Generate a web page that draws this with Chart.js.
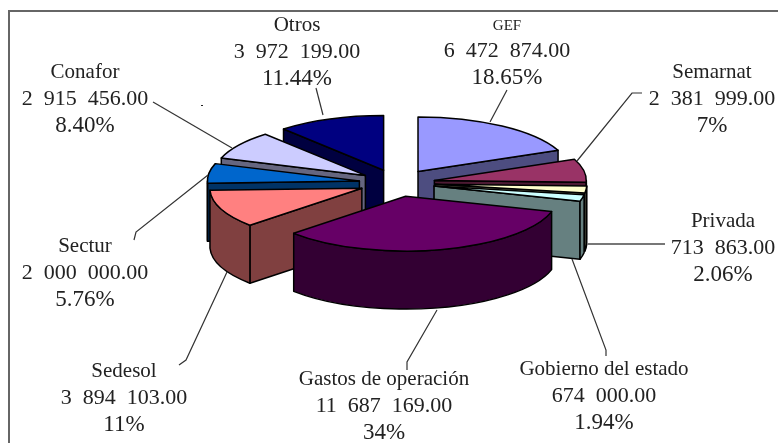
<!DOCTYPE html>
<html>
<head>
<meta charset="utf-8">
<style>
  html, body { margin: 0; background: #fff; }
  #box { position: relative; width: 778px; height: 443px; }
</style>
<script src="https://cdn.jsdelivr.net/npm/chart.js@4"></script>
</head>
<body>
<div id="box"><canvas id="pieChart" width="778" height="443"></canvas></div>
<script>
const categories = ['GEF', 'Semarnat', 'Privada', 'Gobierno del estado', 'Gastos de operación', 'Sedesol', 'Sectur', 'Conafor', 'Otros'];
const amounts = [6472874, 2381999, 713863, 674000, 11687169, 3894103, 2000000, 2915456, 3972199];
const shares = ['18.65%', '7%', '2.06%', '1.94%', '34%', '11%', '5.76%', '8.40%', '11.44%'];
const topColors = ['#9999FF', '#993366', '#FFFFCC', '#CCFFFF', '#660066', '#FF8080', '#0066CC', '#CCCCFF', '#000080'];
const sideColors = ['#4D4D80', '#4D1A33', '#808066', '#668080', '#330033', '#804040', '#003366', '#666680', '#000040'];

// squash of the pie plane, wall height and how far each slice is pulled out
const tilt = 0.36;
const depth = 58;
const explode = 38;

// text block per slice: centre x, first baseline
const labelPlaces = [
  [507, 30], [712, 78], [723, 227], [604, 375], [384, 385],
  [124, 377], [85, 252], [85, 78], [297, 31]
];
const leaders = [
  [[507, 90], [490, 122]],
  [[642, 93], [632, 93], [577, 161]],
  [[665, 244], [587, 244]],
  [[572, 259], [606, 350], [606, 356]],
  [[437, 310], [407, 362], [407, 370]],
  [[227, 272], [186, 360], [179, 365]],
  [[134, 240], [136, 232], [208, 175]],
  [[153, 102], [232, 148]],
  [[316, 88], [323, 115]]
];

function money(v) {
  const whole = String(v).replace(/\B(?=(\d{3})+$)/g, '  ');
  return whole + '.00';
}

function drawWalls(ctx, arc, i, cx, cy) {
  const r = arc.outerRadius;
  const px = a => cx + r * Math.cos(a);
  const py = a => cy + r * Math.sin(a) * tilt;
  ctx.fillStyle = sideColors[i];

  const flat = a => {
    ctx.beginPath();
    ctx.moveTo(cx, cy);
    ctx.lineTo(px(a), py(a));
    ctx.lineTo(px(a), py(a) + depth);
    ctx.lineTo(cx, cy + depth);
    ctx.closePath();
    ctx.fill();
    ctx.stroke();
  };
  if (Math.cos(arc.startAngle) < 0) flat(arc.startAngle);
  if (Math.cos(arc.endAngle) > 0) flat(arc.endAngle);

  // only the part of the rim that faces the front
  const from = Math.max(arc.startAngle, 0);
  const to = Math.min(arc.endAngle, Math.PI);
  if (to > from) {
    ctx.beginPath();
    ctx.ellipse(cx, cy, r, r * tilt, 0, from, to);
    ctx.ellipse(cx, cy + depth, r, r * tilt, 0, to, from, true);
    ctx.closePath();
    ctx.fill();
    ctx.stroke();
  }
}

const pie3d = {
  id: 'pie3d',
  beforeDatasetDraw() {
    return false;
  },
  afterDatasetsDraw(chart) {
    const ctx = chart.ctx;
    const arcs = chart.getDatasetMeta(0).data.map((arc, i) => {
      const mid = (arc.startAngle + arc.endAngle) / 2;
      return { arc, i, cx: arc.x + Math.cos(mid) * explode, cy: arc.y + Math.sin(mid) * explode * tilt };
    });
    // back slices first
    arcs.sort((a, b) => a.cy - b.cy);

    ctx.save();
    ctx.strokeStyle = '#000';
    ctx.lineWidth = 1.5;
    ctx.lineJoin = 'round';
    arcs.forEach(({ arc, i, cx, cy }) => {
      drawWalls(ctx, arc, i, cx, cy);

      ctx.save();
      ctx.translate(cx, cy);
      ctx.scale(1, tilt);
      ctx.translate(-arc.x, -arc.y);
      arc.draw(ctx);
      ctx.restore();

      ctx.beginPath();
      ctx.moveTo(cx, cy);
      ctx.ellipse(cx, cy, arc.outerRadius, arc.outerRadius * tilt, 0, arc.startAngle, arc.endAngle);
      ctx.closePath();
      ctx.stroke();
    });
    ctx.restore();
  },
  afterDraw(chart) {
    const ctx = chart.ctx;
    ctx.save();

    // frame, open on the right and at the bottom
    ctx.strokeStyle = '#666';
    ctx.lineWidth = 2;
    ctx.beginPath();
    ctx.moveTo(9, 443);
    ctx.lineTo(9, 11);
    ctx.lineTo(778, 11);
    ctx.stroke();

    ctx.strokeStyle = '#333';
    ctx.lineWidth = 1.2;
    leaders.forEach((line, i) => {
      // the Privada leader is the one heavier, greyer line
      ctx.strokeStyle = i === 2 ? '#777' : '#333';
      ctx.lineWidth = i === 2 ? 2 : 1.2;
      ctx.beginPath();
      line.forEach(([x, y], n) => (n ? ctx.lineTo(x, y) : ctx.moveTo(x, y)));
      ctx.stroke();
    });

    ctx.fillStyle = '#222';
    ctx.textAlign = 'center';
    ctx.textBaseline = 'alphabetic';
    categories.forEach((name, i) => {
      const [x, y] = labelPlaces[i];
      ctx.font = (name === 'GEF' ? 15 : 21) + 'px "Liberation Serif"';
      ctx.fillText(name, x, y);
      ctx.font = '22px "Liberation Serif"';
      ctx.fillText(money(amounts[i]), x, y + 27);
      ctx.font = '23px "Liberation Serif"';
      ctx.fillText(shares[i], x, y + 54);
    });
    ctx.fillRect(201, 105, 2, 1);
    ctx.restore();
  }
};

new Chart(document.getElementById('pieChart'), {
  type: 'pie',
  data: {
    labels: categories,
    datasets: [{ data: amounts, backgroundColor: topColors, borderWidth: 0 }]
  },
  options: {
    responsive: false,
    animation: false,
    radius: 152,
    rotation: 0,
    layout: { padding: { left: 16, bottom: 77 } },
    plugins: { legend: { display: false }, tooltip: { enabled: false } }
  },
  plugins: [pie3d]
});
</script>
</body>
</html>
